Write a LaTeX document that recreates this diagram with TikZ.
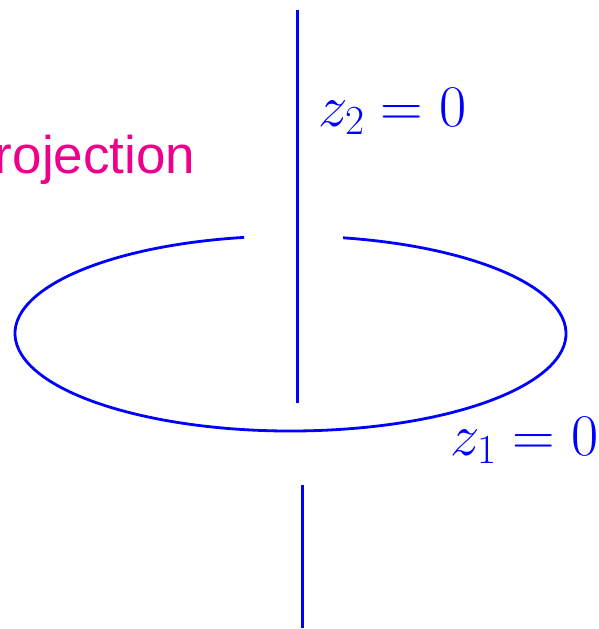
\RequirePackage{fix-cm}
\documentclass[tikz,border=0pt]{standalone}
\usepackage{fontspec}
\newfontfamily\labelsans{Liberation Sans}
\definecolor{projpink}{RGB}{236,0,140}
\definecolor{lineblue}{RGB}{0,0,255}
\tikzset{
  curve/.style={draw=lineblue, line width=2.8pt},
  mathlabel/.style={text=lineblue, inner sep=0pt, font=\fontsize{59}{70}\selectfont},
  sanslabel/.style={text=projpink, inner sep=0pt, font=\labelsans\fontsize{53}{64}\selectfont}
}
\begin{document}
\begin{tikzpicture}[x=1pt,y=-1pt]
  \useasboundingbox (0,0) rectangle (599,629);
  % upper and lower parts of the vertical line z_2 = 0
  \coordinate (ut) at (297.5,10);
  \coordinate (ub) at (297.5,403);
  \coordinate (lt) at (302.5,485);
  \coordinate (lb) at (302.5,628);
  \draw[curve] (ut) -- (ub);
  \draw[curve] (lt) -- (lb);
  % broken ellipse z_1 = 0
  \coordinate (c) at (290.5,333.5);
  \draw[curve] ([shift={(260.3:275.5 and 97.5)}]c) arc[start angle=260.3, end angle=-79, x radius=275.5, y radius=97.5];
  % labels
  \node[mathlabel, anchor=base west] (ztwo) at (318,126) {$z_2 = 0$};
  \node[mathlabel, anchor=base west] (zone) at (450,455) {$z_1 = 0$};
  \node[sanslabel, anchor=base east] (proj) at (195.5,173) {Projection};
\end{tikzpicture}
\end{document}
